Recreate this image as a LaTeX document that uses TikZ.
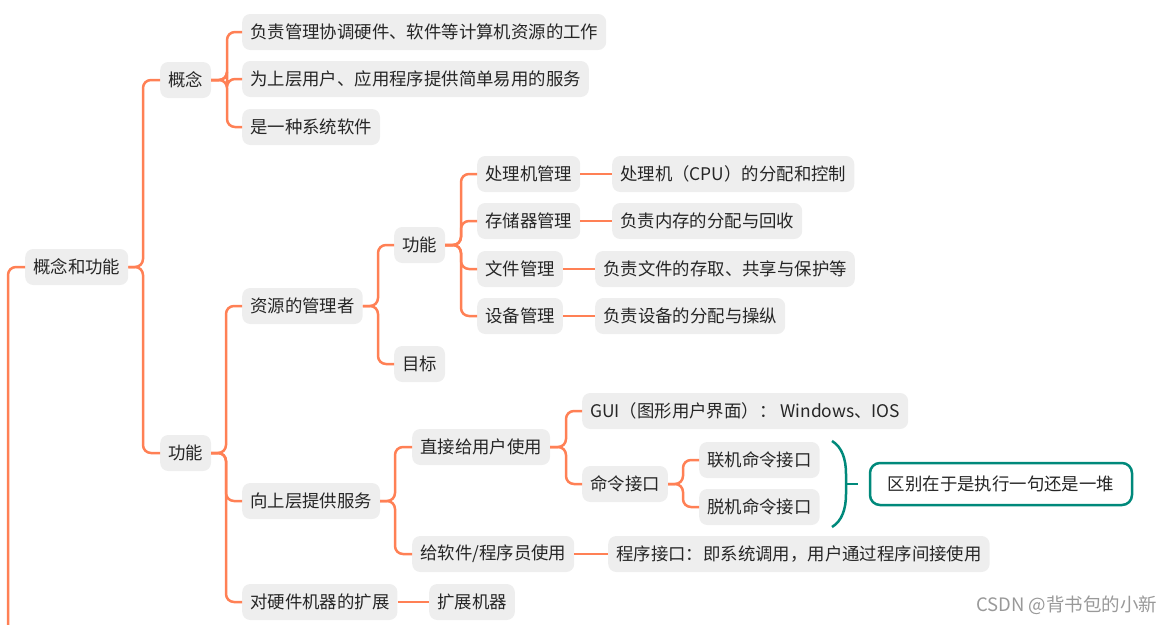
\documentclass[tikz,border=0pt]{standalone}
\usepackage{fontspec}
\setmainfont{Noto Sans CJK SC}
\definecolor{org}{RGB}{255,128,85}
\definecolor{nodebg}{RGB}{238,238,238}
\definecolor{tealc}{RGB}{0,137,123}
\begin{document}
\begin{tikzpicture}[x=1pt,y=-1pt,
  box/.style={fill=nodebg, rounded corners=8pt, inner xsep=8pt, inner ysep=0pt,
    minimum height=36pt, anchor=west, text=black!85,
    font=\fontsize{17.4}{20}\selectfont},
  conn/.style={draw=org, line width=2.5pt, rounded corners=8pt},
  tealbox/.style={draw=tealc, line width=2.5pt, rounded corners=10pt, fill=white,
    minimum width=262pt, minimum height=42pt, text=black!85,
    font=\fontsize{17.4}{20}\selectfont},
  wmark/.style={text=black!40, font=\fontsize{18.5}{20}\selectfont}]
\useasboundingbox (0,0) rectangle (1175,624);
\clip (0,0) rectangle (1175,624);
% level 1
\node[box] (gnc) at (25,267) {概念和功能};
% level 2
\node[box] (gn) at (160,80) {概念};
\node[box] (gf) at (160,453) {功能};
% 概念 children
\node[box] (c1) at (242,32) {负责管理协调硬件、软件等计算机资源的工作};
\node[box] (c2) at (242,79) {为上层用户、应用程序提供简单易用的服务};
\node[box] (c3) at (242,127) {是一种系统软件};
% 功能 children
\node[box] (zy) at (242,306) {资源的管理者};
\node[box] (xs) at (242,501) {向上层提供服务};
\node[box] (kz) at (242,602) {对硬件机器的扩展};
% 资源的管理者
\node[box] (f3) at (394,245) {功能};
\node[box] (mb) at (394,364) {目标};
\node[box] (p1) at (477,174) {处理机管理};
\node[box] (p2) at (477,221) {存储器管理};
\node[box] (p3) at (477,269) {文件管理};
\node[box] (p4) at (477,316) {设备管理};
\node[box] (l1) at (612,174) {处理机（CPU）的分配和控制};
\node[box] (l2) at (612,221) {负责内存的分配与回收};
\node[box] (l3) at (595,269) {负责文件的存取、共享与保护等};
\node[box] (l4) at (595,316) {负责设备的分配与操纵};
% 向上层提供服务
\node[box] (zj) at (412,447) {直接给用户使用};
\node[box] (gr) at (412,554) {给软件/程序员使用};
\node[box] (gui) at (582,411) {GUI（图形用户界面）： Windows、IOS};
\node[box] (ml) at (582,484) {命令接口};
\node[box] (lj) at (699,460) {联机命令接口};
\node[box] (tj) at (699,507) {脱机命令接口};
\node[box] (cx) at (608,554) {程序接口：即系统调用，用户通过程序间接使用};
\node[box] (kj) at (429,602) {扩展机器};
\node[tealbox] (qb) at (1001,484) {区别在于是执行一句还是一堆};
\node[wmark, anchor=east] (wm) at (1161,605) {CSDN @背书包的小新};
% connectors
\draw[conn] (gnc.west) -- (8,267) -- (8,640);
\foreach \c in {gn,gf} \draw[conn] (gnc.east) -- (143,267) |- (\c.west);
\foreach \c in {c1,c2,c3} \draw[conn] (gn.east) -- (227,80) |- (\c.west);
\foreach \c in {zy,xs,kz} \draw[conn] (gf.east) -- (226,453) |- (\c.west);
\foreach \c in {f3,mb} \draw[conn] (zy.east) -- (378,306) |- (\c.west);
\foreach \c in {p1,p2,p3,p4} \draw[conn] (f3.east) -- (461,245) |- (\c.west);
\draw[conn] (p1.east) -- (l1.west);
\draw[conn] (p2.east) -- (l2.west);
\draw[conn] (p3.east) -- (l3.west);
\draw[conn] (p4.east) -- (l4.west);
\foreach \c in {zj,gr} \draw[conn] (xs.east) -- (395,501) |- (\c.west);
\foreach \c in {gui,ml} \draw[conn] (zj.east) -- (566,447) |- (\c.west);
\foreach \c in {lj,tj} \draw[conn] (ml.east) -- (683,484) |- (\c.west);
\draw[conn] (gr.east) -- (cx.west);
\draw[conn] (kz.east) -- (kj.west);
% brace
\draw[draw=tealc, line width=2.5pt] (832,441) .. controls (842,447) and (846,459) .. (846,474)
  -- (846,494) .. controls (846,509) and (842,521) .. (832,527);
\draw[draw=tealc, line width=2.5pt] (846,484) -- (858,484);
\end{tikzpicture}
\end{document}
